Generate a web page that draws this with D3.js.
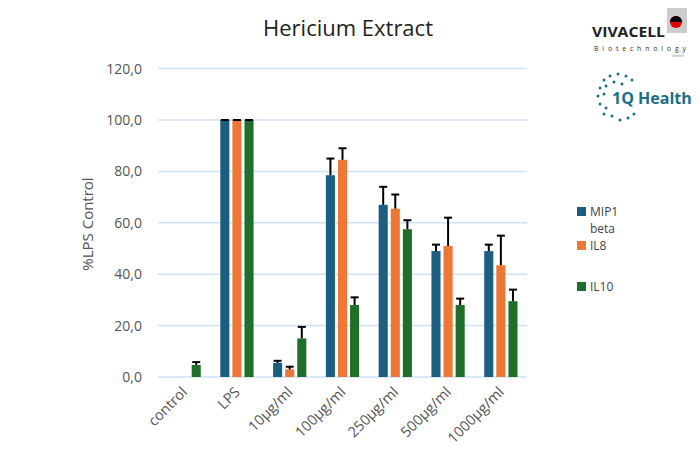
<!DOCTYPE html>
<html><head><meta charset="utf-8">
<script src="https://cdn.jsdelivr.net/npm/d3@7"></script>
<style>body{margin:0;background:#fff;font-family:"Open Sans",sans-serif}</style>
</head><body><div id="chart-area"></div>
<script>
var width = 700, height = 467;

var categories = ["control", "LPS", "10µg/ml", "100µg/ml", "250µg/ml", "500µg/ml", "1000µg/ml"];
var series = ["MIP1 beta", "IL8", "IL10"];
var colors = ["#1b5e82", "#ed7734", "#1f6e2a"];
var mip1 = [null, 100, 5.5, 78.5, 67, 49, 49];
var mip1Err = [null, 0, 0.8, 6.5, 7, 2.5, 2.5];
var il8 = [null, 100, 3, 84.5, 65.5, 51, 43.5];
var il8Err = [null, 0, 1, 4.5, 5.5, 11, 11.5];
var il10 = [4.7, 100, 15, 28, 57.5, 28, 29.5];
var il10Err = [1.1, 0, 4.5, 3, 3.5, 2.5, 4.5];
var yTicks = [0, 20, 40, 60, 80, 100, 120];

var values = [mip1, il8, il10], errs = [mip1Err, il8Err, il10Err];

var svg = d3.select("#chart-area").append("svg")
    .attr("width", width).attr("height", height);

var x = d3.scaleBand().domain(categories).range([158, 527]).paddingInner(0.37).paddingOuter(0.18);
var xs = d3.scaleBand().domain(series).range([0, x.bandwidth()]).paddingInner(0.25);
var y = d3.scaleLinear().domain([0, 120]).range([377, 68.6]);

// gridlines
svg.append("g").selectAll("line").data(yTicks).enter().append("line")
  .attr("x1", 158).attr("x2", 527)
  .attr("y1", d => y(d)).attr("y2", d => y(d))
  .style("stroke", "#cfe2f3").style("stroke-width", 1.5);

// y labels
svg.append("g").selectAll("text").data(yTicks).enter().append("text")
  .attr("x", 142).attr("y", d => y(d) + 5)
  .attr("text-anchor", "end").style("font-size", "14px").style("fill", "#555")
  .text(d => d.toFixed(1).replace(".", ","));

svg.append("text").attr("transform", "translate(93,224) rotate(-90)")
  .attr("text-anchor", "middle").style("font-size", "15px").style("fill", "#555")
  .text("%LPS Control");

svg.append("text").attr("x", 348).attr("y", 36).attr("text-anchor", "middle")
  .style("font-size", "22px").style("fill", "#222").text("Hericium Extract");

// bars
series.forEach(function(s, i) {
  var g = svg.append("g");
  var data = categories.map((c, j) => ({c: c, v: values[i][j], e: errs[i][j]})).filter(d => d.v != null);
  g.selectAll("rect").data(data).enter().append("rect")
    .attr("x", d => x(d.c) + xs(s)).attr("width", xs.bandwidth())
    .attr("y", d => y(d.v)).attr("height", d => y(0) - y(d.v))
    .style("fill", colors[i]);
  var cx = d => x(d.c) + xs(s) + xs.bandwidth() / 2;
  g.selectAll(".eb").data(data).enter().append("line")
    .attr("x1", cx).attr("x2", cx).attr("y1", d => y(d.v)).attr("y2", d => y(d.v + d.e))
    .style("stroke", "#000").style("stroke-width", 2);
  g.selectAll(".cap").data(data).enter().append("line")
    .attr("x1", d => cx(d) - 4).attr("x2", d => cx(d) + 4)
    .attr("y1", d => y(d.v + d.e)).attr("y2", d => y(d.v + d.e))
    .style("stroke", "#000").style("stroke-width", 2);
});

// x labels
svg.append("g").selectAll("text").data(categories).enter().append("text")
  .attr("transform", d => "translate(" + (x(d) + x.bandwidth() / 2 + 4) + ",393) rotate(-45)")
  .attr("text-anchor", "end").style("font-size", "14.5px").style("fill", "#555")
  .text(d => d);

// legend
var legend = [{t: ["MIP1", "beta"], y: 212}, {t: ["IL8"], y: 246}, {t: ["IL10"], y: 287}];
legend.forEach(function(l, i) {
  svg.append("rect").attr("x", 577).attr("y", l.y - 5).attr("width", 9).attr("height", 9).style("fill", colors[i]);
  l.t.forEach(function(t, k) {
    svg.append("text").attr("x", 590).attr("y", l.y + 4 + k * 17).style("font-size", "12px").style("fill", "#444").text(t);
  });
});

// logos (text approximations)
svg.append("rect").attr("x", 667).attr("y", 8).attr("width", 20).attr("height", 25).style("fill", "#ccc");
svg.append("circle").attr("cx", 676).attr("cy", 22).attr("r", 6).style("fill", "#d00");
svg.append("path").attr("d", "M670,22 A6,6 0 0,1 682,22 Z").style("fill", "#000");
svg.append("text").attr("x", 592).attr("y", 37).attr("textLength", 73).attr("lengthAdjust", "spacingAndGlyphs")
  .style("font-size", "15px").style("font-weight", "bold").style("fill", "#222").text("VIVACELL");
svg.append("text").attr("x", 594).attr("y", 51).attr("textLength", 92)
  .style("font-size", "7px").style("fill", "#333").text("Biotechnology");
svg.append("text").attr("x", 672).attr("y", 57).style("font-size", "4px").style("fill", "#888").text("GmbH");
svg.append("text").attr("x", 612).attr("y", 104).style("font-size", "16px").style("font-weight", "bold").style("fill", "#1b6f85").text("1Q Health");
var dots = [[604,80],[610,76],[618,74],[626,76],[632,80],[600,88],[606,86],[598,96],[604,94],[600,104],[606,108],[604,114],[612,116],[620,120],[628,118],[634,114],[614,82],[622,84]];
svg.append("g").selectAll("circle").data(dots).enter().append("circle")
  .attr("cx", d => d[0]).attr("cy", d => d[1]).attr("r", 1.5).style("fill", "#1b6f85");
</script></body></html>
